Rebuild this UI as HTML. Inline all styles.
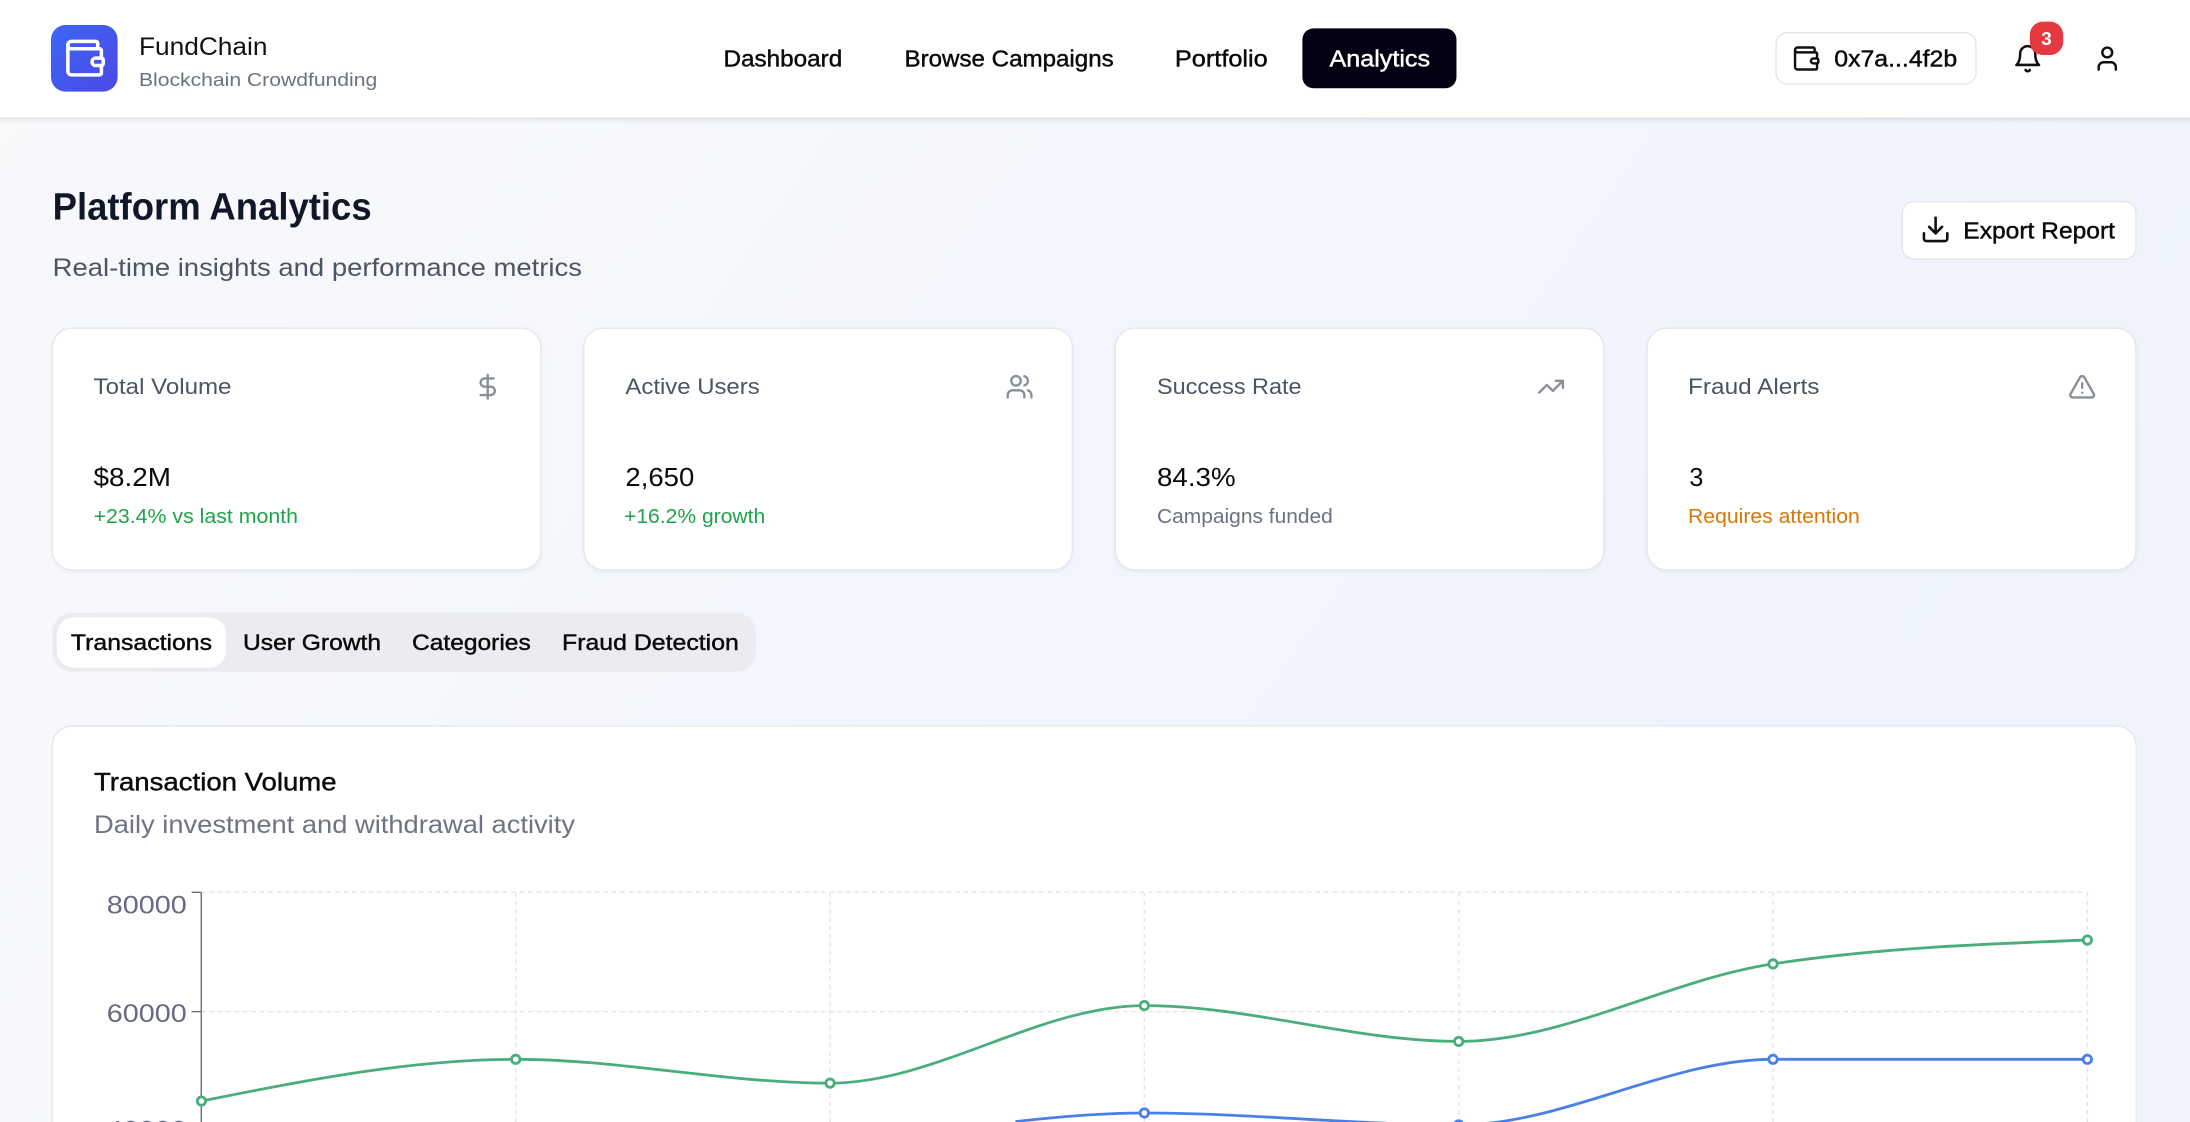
<!DOCTYPE html>
<html>
<head>
<meta charset="utf-8">
<style>
  html, body { margin:0; padding:0; width:2190px; height:1122px; overflow:hidden; background:#f6f8fb; }
  svg { display:block; }
  text { font-family: "Liberation Sans", "DejaVu Sans", sans-serif; }
</style>
</head>
<body>
<svg width="2190" height="1122" viewBox="0 0 1568 803.35" preserveAspectRatio="none" xmlns="http://www.w3.org/2000/svg" overflow="hidden">
  <defs>
    <linearGradient id="bg" x1="0" y1="0" x2="1" y2="0.35">
      <stop offset="0" stop-color="#f8f9fb"/>
      <stop offset="1" stop-color="#eef3fc"/>
    </linearGradient>
    <linearGradient id="logo" x1="0" y1="0" x2="1" y2="1">
      <stop offset="0" stop-color="#3b66f6"/>
      <stop offset="1" stop-color="#4d48e6"/>
    </linearGradient>
    <linearGradient id="hshadow" x1="0" y1="0" x2="0" y2="1">
      <stop offset="0" stop-color="#000" stop-opacity="0.07"/>
      <stop offset="1" stop-color="#000" stop-opacity="0"/>
    </linearGradient>
    <filter id="sh" x="-5%" y="-5%" width="110%" height="115%">
      <feDropShadow dx="0" dy="1" stdDeviation="1.2" flood-color="#000" flood-opacity="0.05"/>
    </filter>
  </defs>

  <!-- background -->
  <rect x="0" y="0" width="1568" height="803.35" fill="url(#bg)"/>

  <!-- header -->
  <rect x="0" y="0" width="1568" height="84.7" fill="#ffffff"/>
  <rect x="0" y="84.7" width="1568" height="3.5" fill="url(#hshadow)"/>
  <line x1="0" y1="84.5" x2="1568" y2="84.5" stroke="#e2e4e8" stroke-width="1"/>

  <!-- logo -->
  <rect x="36.5" y="17.9" width="47.7" height="47.7" rx="10.5" fill="url(#logo)"/>
  <g transform="translate(44.6,25.6) scale(1.333)" fill="none" stroke="#ffffff" stroke-width="1.9" stroke-linecap="round" stroke-linejoin="round">
    <path d="M19 7V4a1 1 0 0 0-1-1H5a2 2 0 0 0 0 4h15a1 1 0 0 1 1 1v4h-3a2 2 0 0 0 0 4h3a1 1 0 0 0 1-1v-2a1 1 0 0 0-1-1"/>
    <path d="M3 5v14a2 2 0 0 0 2 2h15a1 1 0 0 0 1-1v-4"/>
  </g>
  <text x="99.5" y="39.4" font-size="18" fill="#111111" textLength="92" lengthAdjust="spacingAndGlyphs">FundChain</text>
  <text x="99.5" y="61.6" font-size="13.5" fill="#6b7280" textLength="170.6" lengthAdjust="spacingAndGlyphs">Blockchain Crowdfunding</text>

  <!-- nav -->
  <g font-size="16.5" fill="#0a0a0a" stroke="#0a0a0a" stroke-width="0.3">
    <text x="518" y="47.7" textLength="85" lengthAdjust="spacingAndGlyphs">Dashboard</text>
    <text x="647.6" y="47.7" textLength="149.8" lengthAdjust="spacingAndGlyphs">Browse Campaigns</text>
    <text x="841.2" y="47.7" textLength="66.5" lengthAdjust="spacingAndGlyphs">Portfolio</text>
  </g>
  <rect x="932.5" y="20.3" width="110.3" height="42.9" rx="8" fill="#030213"/>
  <text x="951.9" y="47.7" font-size="16.5" fill="#ffffff" stroke="#ffffff" stroke-width="0.3" textLength="72" lengthAdjust="spacingAndGlyphs">Analytics</text>

  <!-- wallet button -->
  <rect x="1271.6" y="23.4" width="143.2" height="36.7" rx="8" fill="#ffffff" stroke="#e3e5e9" stroke-width="1"/>
  <g transform="translate(1282.6,31.4) scale(0.875)" fill="none" stroke="#111111" stroke-width="2" stroke-linecap="round" stroke-linejoin="round">
    <path d="M19 7V4a1 1 0 0 0-1-1H5a2 2 0 0 0 0 4h15a1 1 0 0 1 1 1v4h-3a2 2 0 0 0 0 4h3a1 1 0 0 0 1-1v-2a1 1 0 0 0-1-1"/>
    <path d="M3 5v14a2 2 0 0 0 2 2h15a1 1 0 0 0 1-1v-4"/>
  </g>
  <text x="1313.3" y="47.7" font-size="16.5" fill="#0a0a0a" stroke="#0a0a0a" stroke-width="0.3" textLength="88" lengthAdjust="spacingAndGlyphs">0x7a...4f2b</text>

  <!-- bell -->
  <g transform="translate(1441,31.2) scale(0.9)" fill="none" stroke="#111111" stroke-width="2" stroke-linecap="round" stroke-linejoin="round">
    <path d="M6 8a6 6 0 0 1 12 0c0 7 3 9 3 9H3s3-2 3-9"/>
    <path d="M10.3 21a1.94 1.94 0 0 0 3.4 0"/>
  </g>
  <rect x="1453.3" y="15.5" width="23.9" height="23.9" rx="9.5" fill="#e5383f"/>
  <text x="1465.25" y="32.2" font-size="13.5" font-weight="700" fill="#ffffff" text-anchor="middle">3</text>

  <!-- user -->
  <g transform="translate(1498.2,31.4) scale(0.88)" fill="none" stroke="#111111" stroke-width="2" stroke-linecap="round" stroke-linejoin="round">
    <path d="M19 21v-2a4 4 0 0 0-4-4H9a4 4 0 0 0-4 4v2"/>
    <circle cx="12" cy="7" r="4"/>
  </g>

  <!-- page title -->
  <text x="37.7" y="157" font-size="27" font-weight="700" fill="#0f1729" textLength="228.4" lengthAdjust="spacingAndGlyphs">Platform Analytics</text>
  <text x="37.7" y="197.6" font-size="18" fill="#4b5563" textLength="379" lengthAdjust="spacingAndGlyphs">Real-time insights and performance metrics</text>

  <!-- export button -->
  <rect x="1362" y="144.4" width="167.3" height="41" rx="8" fill="#ffffff" stroke="#e3e5e9" stroke-width="1"/>
  <g transform="translate(1374.7,153.1) scale(0.93)" fill="none" stroke="#111111" stroke-width="2" stroke-linecap="round" stroke-linejoin="round">
    <path d="M21 15v4a2 2 0 0 1-2 2H5a2 2 0 0 1-2-2v-4"/>
    <polyline points="7 10 12 15 17 10"/>
    <line x1="12" x2="12" y1="15" y2="3"/>
  </g>
  <text x="1405.7" y="170.6" font-size="16.5" fill="#0a0a0a" stroke="#0a0a0a" stroke-width="0.3" textLength="108.6" lengthAdjust="spacingAndGlyphs">Export Report</text>

  <!-- stat cards -->
  <g filter="url(#sh)">
    <rect x="37.5" y="235" width="349.8" height="173" rx="14" fill="#ffffff" stroke="#e4e7eb" stroke-width="1"/>
    <rect x="418" y="235" width="349.8" height="173" rx="14" fill="#ffffff" stroke="#e4e7eb" stroke-width="1"/>
    <rect x="798.5" y="235" width="349.8" height="173" rx="14" fill="#ffffff" stroke="#e4e7eb" stroke-width="1"/>
    <rect x="1179.3" y="235" width="350" height="173" rx="14" fill="#ffffff" stroke="#e4e7eb" stroke-width="1"/>
  </g>

  <g font-size="16" fill="#4a5565">
    <text x="67" y="282.1" textLength="98.7" lengthAdjust="spacingAndGlyphs">Total Volume</text>
    <text x="447.8" y="282.1" textLength="96.1" lengthAdjust="spacingAndGlyphs">Active Users</text>
    <text x="828.4" y="282.1" textLength="103.5" lengthAdjust="spacingAndGlyphs">Success Rate</text>
    <text x="1208.6" y="282.1" textLength="94.1" lengthAdjust="spacingAndGlyphs">Fraud Alerts</text>
  </g>

  <!-- card icons -->
  <g fill="none" stroke="#8a8f99" stroke-width="2" stroke-linecap="round" stroke-linejoin="round">
    <g transform="translate(339,266.7) scale(0.85)">
      <line x1="12" x2="12" y1="2" y2="22"/>
      <path d="M17 5H9.5a3.5 3.5 0 0 0 0 7h5a3.5 3.5 0 0 1 0 7H6"/>
    </g>
    <g transform="translate(719.8,266.7) scale(0.85)">
      <path d="M16 21v-2a4 4 0 0 0-4-4H6a4 4 0 0 0-4 4v2"/>
      <circle cx="9" cy="7" r="4"/>
      <path d="M22 21v-2a4 4 0 0 0-3-3.87"/>
      <path d="M16 3.13a4 4 0 0 1 0 7.75"/>
    </g>
    <g transform="translate(1100.3,266.7) scale(0.85)">
      <polyline points="22 7 13.5 15.5 8.5 10.5 2 17"/>
      <polyline points="16 7 22 7 22 13"/>
    </g>
    <g transform="translate(1480.6,266.7) scale(0.85)">
      <path d="m21.73 18-8-14a2 2 0 0 0-3.48 0l-8 14A2 2 0 0 0 4 21h16a2 2 0 0 0 1.73-3"/>
      <path d="M12 9v4"/>
      <path d="M12 17h.01"/>
    </g>
  </g>

  <g font-size="18.5" fill="#0a0a0a">
    <text x="67" y="348" textLength="55.4" lengthAdjust="spacingAndGlyphs">$8.2M</text>
    <text x="447.8" y="348" textLength="49.3" lengthAdjust="spacingAndGlyphs">2,650</text>
    <text x="828.4" y="348" textLength="56.3" lengthAdjust="spacingAndGlyphs">84.3%</text>
    <text x="1209.6" y="348" textLength="10" lengthAdjust="spacingAndGlyphs">3</text>
  </g>

  <g font-size="14.5">
    <text x="67" y="374.5" fill="#1fa34a" textLength="146.4" lengthAdjust="spacingAndGlyphs">+23.4% vs last month</text>
    <text x="446.8" y="374.5" fill="#1fa34a" textLength="101.1" lengthAdjust="spacingAndGlyphs">+16.2% growth</text>
    <text x="828.4" y="374.5" fill="#6b7280" textLength="125.9" lengthAdjust="spacingAndGlyphs">Campaigns funded</text>
    <text x="1208.6" y="374.5" fill="#d97706" textLength="123" lengthAdjust="spacingAndGlyphs">Requires attention</text>
  </g>

  <!-- tabs -->
  <rect x="37.5" y="438.7" width="503.8" height="42.3" rx="14" fill="#ececf0"/>
  <rect x="40.8" y="442" width="121" height="36" rx="12" fill="#ffffff"/>
  <g font-size="16" fill="#0a0a0a" stroke="#0a0a0a" stroke-width="0.3">
    <text x="50.8" y="465.4" textLength="101" lengthAdjust="spacingAndGlyphs">Transactions</text>
    <text x="174" y="465.4" textLength="98.8" lengthAdjust="spacingAndGlyphs">User Growth</text>
    <text x="295" y="465.4" textLength="85" lengthAdjust="spacingAndGlyphs">Categories</text>
    <text x="402.4" y="465.4" textLength="126.6" lengthAdjust="spacingAndGlyphs">Fraud Detection</text>
  </g>

  <!-- chart card (open at bottom edge) -->
  <path d="M37.5,803.35 V533.8 A14,14 0 0 1 51.5,519.8 H1515.5 A14,14 0 0 1 1529.5,533.8 V803.35 Z" fill="#ffffff" stroke="none"/>
  <path d="M37.5,803.35 V533.8 A14,14 0 0 1 51.5,519.8 H1515.5 A14,14 0 0 1 1529.5,533.8 V803.35" fill="none" stroke="#e4e7eb" stroke-width="1"/>
  <text x="67.3" y="566.1" font-size="18" fill="#0a0a0a" stroke="#0a0a0a" stroke-width="0.3" textLength="173.7" lengthAdjust="spacingAndGlyphs">Transaction Volume</text>
  <text x="67.3" y="596.6" font-size="18" fill="#6f7382" textLength="344.4" lengthAdjust="spacingAndGlyphs">Daily investment and withdrawal activity</text>

  <!-- chart plot clipped to frame -->
  <svg x="0" y="600" width="1568" height="203.35" viewBox="0 600 1568 203.35" overflow="hidden">
    <!-- grid -->
    <g stroke="#e3e5e9" stroke-width="1" stroke-dasharray="3 3" fill="none">
      <line x1="144.1" y1="638.9" x2="1494.5" y2="638.9"/>
      <line x1="144.1" y1="724.3" x2="1494.5" y2="724.3"/>
      <line x1="369.25" y1="638.9" x2="369.25" y2="803.35"/>
      <line x1="594.3" y1="638.9" x2="594.3" y2="803.35"/>
      <line x1="819.35" y1="638.9" x2="819.35" y2="803.35"/>
      <line x1="1044.4" y1="638.9" x2="1044.4" y2="803.35"/>
      <line x1="1269.45" y1="638.9" x2="1269.45" y2="803.35"/>
      <line x1="1494.5" y1="638.9" x2="1494.5" y2="803.35"/>
    </g>

    <!-- y axis -->
    <g stroke="#666b7e" stroke-width="1" fill="none">
      <line x1="144.1" y1="638.9" x2="144.1" y2="803.35"/>
      <line x1="137.2" y1="638.9" x2="144.1" y2="638.9"/>
      <line x1="137.2" y1="724.3" x2="144.1" y2="724.3"/>
    </g>
    <g font-size="18" fill="#666b7e">
      <text x="76.4" y="653.9" textLength="57.3" lengthAdjust="spacingAndGlyphs">80000</text>
      <text x="76.4" y="731.9" textLength="57.3" lengthAdjust="spacingAndGlyphs">60000</text>
      <text x="76.4" y="815.3" textLength="57.3" lengthAdjust="spacingAndGlyphs">40000</text>
    </g>

    <!-- series: blue (visible part) -->
    <path fill="none" stroke="#4a80e6" stroke-width="2"
      d="M727.08,803.02 C757.83,799.53 788.60,796.89 819.35,796.89 C894.37,796.89 969.38,805.43 1044.4,805.43 C1119.42,805.43 1194.43,758.46 1269.45,758.46 C1344.47,758.46 1419.48,758.46 1494.5,758.46"/>
    <g fill="#ffffff" stroke="#4a80e6" stroke-width="2">
      <circle cx="819.35" cy="796.89" r="3"/>
      <circle cx="1044.4" cy="805.43" r="3"/>
      <circle cx="1269.45" cy="758.46" r="3"/>
      <circle cx="1494.5" cy="758.46" r="3"/>
    </g>

    <!-- series: green -->
    <path fill="none" stroke="#4aae7b" stroke-width="2"
      d="M144.2,788.35 C219.22,773.40 294.23,758.46 369.25,758.46 C444.27,758.46 519.28,775.54 594.3,775.54 C669.32,775.54 744.33,720.0 819.35,720.0 C894.37,720.0 969.38,745.65 1044.4,745.65 C1119.42,745.65 1194.43,701.53 1269.45,690.14 C1344.47,678.75 1419.48,675.91 1494.5,673.06"/>
    <g fill="#ffffff" stroke="#4aae7b" stroke-width="2">
      <circle cx="144.2" cy="788.35" r="3"/>
      <circle cx="369.25" cy="758.46" r="3"/>
      <circle cx="594.3" cy="775.54" r="3"/>
      <circle cx="819.35" cy="720.0" r="3"/>
      <circle cx="1044.4" cy="745.65" r="3"/>
      <circle cx="1269.45" cy="690.14" r="3"/>
      <circle cx="1494.5" cy="673.06" r="3"/>
    </g>
  </svg>
</svg>
</body>
</html>
